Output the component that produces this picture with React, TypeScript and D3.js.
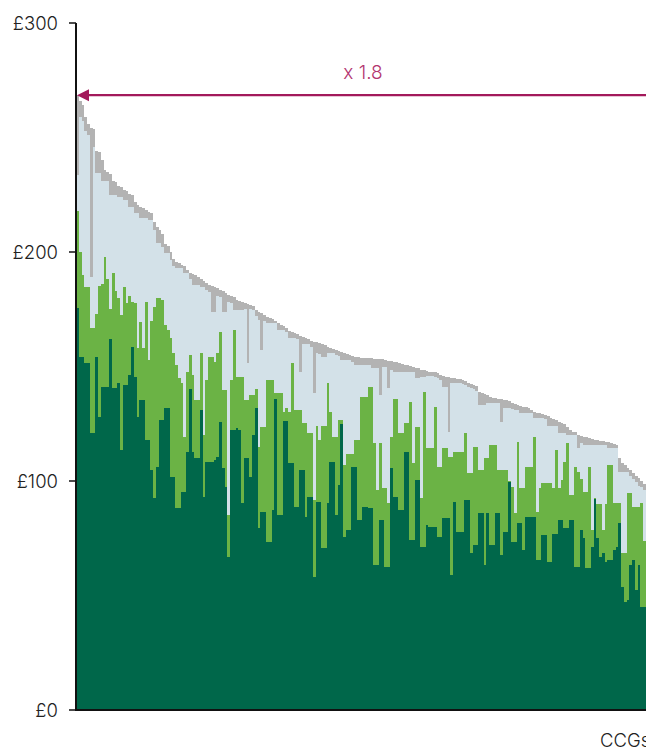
import React from "react";
import * as d3 from "d3";

// Axis ticks and labels
const yTickValues = [0, 100, 200, 300];
const yTickLabels = ["£0", "£100", "£200", "£300"];
const xAxisLabel = "CCGs";
const ratioLabel = "x 1.8";

// Stack levels per CCG (sorted by total, descending), £ per head
const totalTop = [
  268.5, 266, 264, 259, 256, 254, 253.5, 244, 243.5, 240, 236, 235, 234, 231, 230.5, 229, 228.5, 227, 226.5, 225.5,
  225, 222, 220.5, 219.8, 219, 218.5, 217.5, 217, 213, 211, 209.6, 208, 203.5, 202.5, 200, 197, 195.5, 195, 194.5, 194,
  192, 191, 190.5, 190, 189, 188, 187.5, 186.5, 185.6, 185.2, 184.8, 184.2, 183.4, 183, 182, 181.2, 180.8, 180.2, 179, 178.6,
  178.2, 177.7, 177.4, 177, 176.4, 174.5, 173.8, 173.2, 172.6, 171.5, 171, 170.6, 170, 168.8, 168.1, 167.6, 167, 165.6, 165, 164.6,
  164, 163.2, 162.9, 162.4, 162, 161.2, 160.7, 160.5, 160.2, 160, 159.6, 158.6, 158, 157.6, 157.2, 156.8, 156.3, 156, 155.5, 155,
  154.6, 154.1, 154, 153.9, 153.8, 153.7, 153.6, 153.5, 153.4, 153.3, 153.2, 153.1, 153, 152.4, 152.2, 152, 151.8, 151.5, 151.2, 150.7,
  150.5, 150.3, 150, 149.4, 149.2, 148.6, 148.3, 148, 147.8, 147.6, 147.4, 147.2, 146.5, 145.8, 145.5, 145.3, 145.1, 144.8, 144.6, 144.4,
  144.2, 143.8, 142.8, 142.3, 141.8, 141.3, 139, 138.4, 138, 137.5, 136.6, 136.3, 136.1, 135.9, 135.7, 135.5, 135.2, 134.8, 134.2, 133.8,
  133.4, 132.8, 132.4, 132.1, 131.8, 131.2, 130.2, 129.8, 129.5, 129.2, 128.8, 128.2, 127.6, 127.2, 126.6, 125.6, 125.2, 124.8, 123.6, 122.2,
  121.6, 121.2, 120, 119.6, 119.3, 119, 118.6, 118.2, 118, 117.8, 117.6, 117.4, 117.1, 116.9, 116.6, 116.2, 115.8, 110, 107.8, 107,
  105.6, 104.8, 103.6, 102.4, 101.2, 100, 98.5,
];

const lightBlueTop = [
  233.6, 259, 257, 253, 251, 189, 246, 234.5, 234.5, 231, 231, 231, 225, 225, 225, 224, 224, 222.7, 222.7, 219.6,
  219.6, 217, 217, 215, 215, 215, 214, 214, 209.6, 204, 204, 202, 199.5, 199.5, 196.5, 194, 193, 193, 193, 190.8,
  190.8, 188, 185.6, 185.6, 185.6, 184.7, 184.5, 183.5, 182.5, 173.8, 173.8, 181, 180.5, 174, 174, 178, 177.8, 174.7, 174.7, 174.7,
  174.7, 175, 151.5, 175, 174.5, 172, 170.5, 157, 170, 169, 169, 169, 169, 166, 166, 166, 165, 162.5, 162.5, 162.5,
  162, 147.6, 160, 160, 160, 158.5, 138.4, 156, 155.5, 154, 154, 156, 156, 156, 155, 154.5, 152.8, 152.8, 152.8, 152.8,
  152, 150.7, 150.7, 150.7, 150.7, 150.7, 150.7, 149.3, 149.3, 149.3, 137.5, 150, 150, 140.6, 148.5, 147.6, 147.6, 147.6, 147.6, 147.6,
  147.6, 147.6, 147.6, 145, 145, 145.4, 145.4, 146, 146, 146, 145.5, 145, 144, 141, 141, 121.4, 142.8, 142.8, 142.8, 142.8,
  142.5, 142, 141, 140.5, 140, 139.5, 133, 133, 133, 134, 134, 134, 134, 134, 125.8, 132, 132, 132, 131.5, 131,
  131, 129.7, 129.7, 129.7, 129.7, 129.7, 127.5, 127.5, 127.5, 127.5, 127, 124, 124, 124, 124, 121, 121, 121, 120, 120,
  120, 120, 114.4, 116.5, 115.7, 115.7, 115.7, 115.7, 115.7, 115.7, 115.7, 115.7, 115.7, 114.4, 114.4, 114.4, 114.4, 104, 104, 104,
  104, 102, 101, 99.5, 98, 97.4, 96,
];

const lightGreenTop = [
  218, 200, 190, 184.7, 184.7, 167, 167, 173, 185, 186, 198, 188, 175, 191, 183, 180, 172.5, 184.7, 177.7, 181,
  178, 177.7, 158, 169.5, 158, 178, 152.8, 170, 176, 180, 180, 179, 168, 166, 162.5, 156, 150.7, 145, 142.8, 119.2,
  147.6, 155, 146.3, 135.4, 135.4, 156, 120, 144, 154, 154, 152, 156, 165, 139.7, 139.7, 85, 144, 166, 145.4, 145.4,
  145.4, 135.4, 135.4, 137.5, 137.5, 140, 114.8, 123.6, 123.6, 144, 144, 144, 138.4, 138.4, 138.4, 130, 132, 130, 151.5, 131,
  131, 131, 125.3, 125.3, 121, 121, 91.7, 124, 118, 124, 124, 142.8, 130, 119, 119, 126.6, 126.6, 107, 112, 112,
  112, 118, 118, 136.7, 136.7, 136.7, 141, 141, 116.6, 96, 116.6, 97, 97, 90.4, 119, 136, 136, 121, 121, 125.3,
  125.3, 134.5, 107.9, 123.6, 123.6, 92.6, 139, 114.4, 114.4, 114.4, 132.3, 106, 106, 114.4, 114.4, 110.5, 110.5, 112.7, 112.7, 112.7,
  112.7, 121, 103.5, 103.5, 114.8, 114.8, 104.8, 104.8, 110, 110, 115.7, 115.7, 115.7, 104.8, 104.8, 104.8, 104.8, 100, 97.4, 86,
  117, 97, 97, 106, 106, 106, 119, 86.5, 97, 99, 99, 99, 99, 97, 113.5, 97, 100.4, 108.3, 116.6, 94,
  94, 106, 104, 101, 95.2, 95.2, 106, 78.6, 92.6, 90, 90, 78.6, 90, 107, 107, 90.4, 90.4, 90.4, 68.5, 68.5,
  94.8, 94.8, 88.7, 88.7, 88.7, 90.4, 74,
];

const darkGreenTop = [
  175.5, 154, 154, 151.5, 151.5, 121, 121, 154, 128, 141, 141, 141, 162, 140.6, 140.6, 142.8, 113.5, 142, 142, 146.3,
  158.5, 145.4, 128, 135.4, 135.4, 118, 118, 104.8, 92.6, 106, 126.6, 126.6, 131.9, 131.9, 101.7, 101.7, 88.2, 88.2, 95, 95,
  112.7, 140, 112.7, 110, 110, 131, 93, 108.3, 108.3, 108.3, 109, 110.5, 125.8, 105.7, 97.4, 66.8, 122.3, 122.3, 123, 122.3,
  90.4, 110, 110, 101.7, 120, 131.9, 79.5, 86.5, 86.5, 73.4, 73.4, 87.3, 136, 85, 85, 126, 126, 107.9, 107.9, 88.7,
  88.7, 104.8, 104.8, 84.3, 93, 93, 58, 90.8, 90.8, 70.7, 70.7, 90.4, 108.3, 108.3, 85, 98.3, 125, 75.5, 78.6, 78.6,
  106, 106, 83, 83, 88.7, 88.7, 88, 88, 63.3, 63.3, 83, 83, 62.4, 62.4, 105.7, 93, 93, 87.3, 87.3, 112.7,
  112.7, 74.2, 74.2, 100.4, 100.4, 71.2, 71.2, 80.8, 80, 80, 80, 75.5, 75.5, 83.8, 83.8, 83.8, 59, 91, 77.7, 77.7,
  77.7, 91.7, 91.7, 68.5, 72, 72, 86, 86, 63.3, 86, 72, 72, 86, 86, 67.7, 77.7, 77.7, 99.6, 73.4, 73.4,
  81.7, 81.7, 70, 84.3, 84.3, 84.3, 84.3, 65.5, 65.5, 76.4, 76.4, 64.6, 64.6, 77, 77, 83, 83, 79.5, 79.5, 83,
  83, 62.4, 62.4, 78.6, 75, 62, 62, 71, 92, 75, 66.8, 68.5, 64.6, 65.5, 65.5, 69.9, 71, 81.7, 53.7, 47.2,
  48, 63.3, 65.5, 52.4, 63.3, 45, 45,
];

const colours = {
  dark: "#00674A",
  light: "#6BB345",
  blue: "#D3E1E8",
  grey: "#B3B3B3",
  accent: "#A3195B",
  accentText: "#B3356F",
  axis: "#111111",
  text: "#222222",
};

const W = 646;
const H = 749;
const FONT = "Inter, 'Open Sans', 'Liberation Sans', sans-serif";

export default function App() {
  const n = totalTop.length;
  const x = d3
    .scaleBand<number>()
    .domain(d3.range(n))
    .range([76, 646])
    .paddingInner(0)
    .paddingOuter(0);
  const y = d3.scaleLinear().domain([0, 300]).range([710, 23]);
  const bw = x.bandwidth();

  const levels = [
    { key: "dark", fill: colours.dark, top: darkGreenTop, base: null as number[] | null },
    { key: "light", fill: colours.light, top: lightGreenTop, base: darkGreenTop },
    { key: "blue", fill: colours.blue, top: lightBlueTop, base: lightGreenTop },
    { key: "grey", fill: colours.grey, top: totalTop, base: lightBlueTop },
  ];

  const maxTotal = d3.max(totalTop) as number;
  const arrowY = y(maxTotal);

  return (
    <div>
      <style>{"html,body{margin:0;padding:0;overflow:hidden;background:#fff}"}</style>
      <svg width={W} height={H} style={{ display: "block", overflow: "hidden" }} fontFamily={FONT}>
        <g shapeRendering="crispEdges">
          {levels.map((l) => (
            <g key={l.key} fill={l.fill}>
              {d3.range(n).map((i) => {
                const lo = l.base ? l.base[i] : 0;
                const hi = l.top[i];
                const yTop = y(hi);
                const yBot = y(lo);
                return (
                  <rect
                    key={i}
                    x={x(i)}
                    y={yTop}
                    width={bw}
                    height={Math.max(0, yBot - yTop)}
                  />
                );
              })}
            </g>
          ))}
        </g>

        {/* y axis */}
        <line x1={76} x2={76} y1={y(300)} y2={y(0)} stroke={colours.axis} strokeWidth={2} />
        {yTickValues.map((v, k) => (
          <g key={v}>
            <line x1={69} x2={76} y1={y(v)} y2={y(v)} stroke={colours.axis} strokeWidth={1.5} />
            <text
              x={58}
              y={y(v)}
              dy="0.36em"
              textAnchor="end"
              fontSize={18.5}
              fontWeight={300}
              fill={colours.text}
            >
              {yTickLabels[k]}
            </text>
          </g>
        ))}

        {/* x axis */}
        <line x1={75} x2={W} y1={y(0)} y2={y(0)} stroke={colours.axis} strokeWidth={2} />
        <text x={600} y={747} fontSize={18.5} fontWeight={300} fill={colours.text}>
          {xAxisLabel}
        </text>

        {/* ratio annotation */}
        <line x1={86} x2={W} y1={arrowY} y2={arrowY} stroke={colours.accent} strokeWidth={2.4} />
        <path
          d={`M${x(0)! + 1},${arrowY} L${x(0)! + 13},${arrowY - 6} L${x(0)! + 13},${arrowY + 6} Z`}
          fill={colours.accent}
        />
        <text
          x={363}
          y={79}
          textAnchor="middle"
          fontSize={19}
          fontWeight={300}
          fill={colours.accentText}
        >
          {ratioLabel}
        </text>
      </svg>
    </div>
  );
}
